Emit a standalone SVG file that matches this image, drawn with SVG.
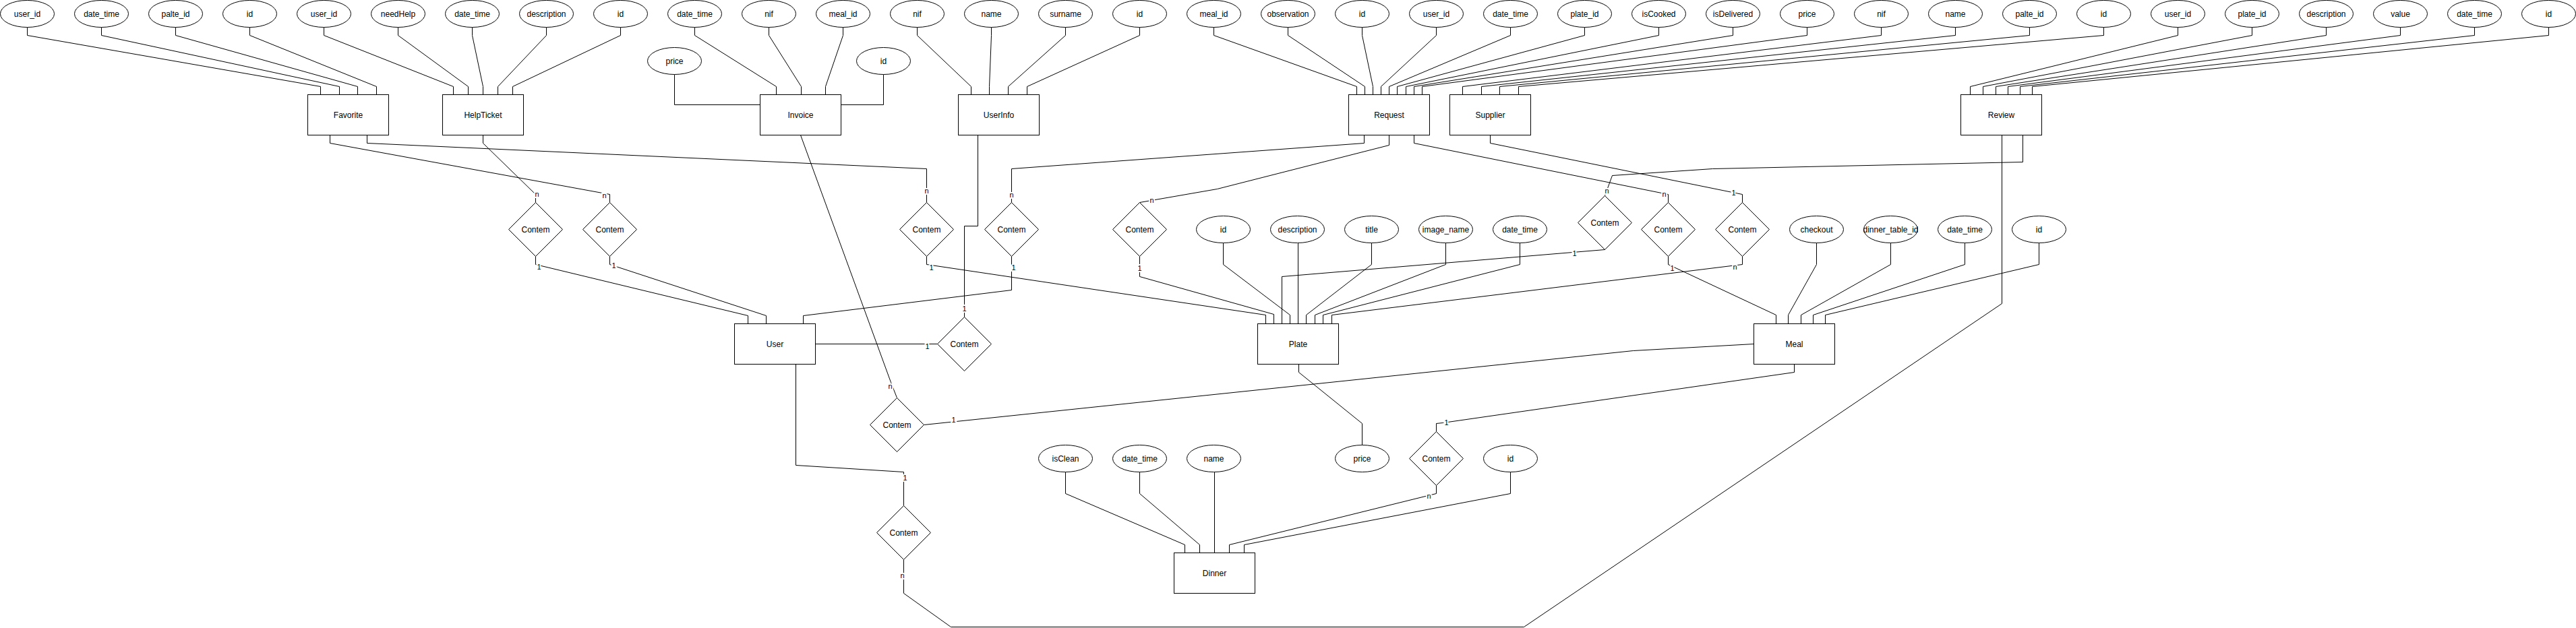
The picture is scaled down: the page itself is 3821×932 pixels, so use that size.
<svg xmlns="http://www.w3.org/2000/svg" width="3821" height="932" viewBox="0 0 3821 932">
<style>
.e,.b,.d{fill:#fff;stroke:#000;stroke-width:1}
.c polyline{fill:none;stroke:#000;stroke-width:1}
text{font-family:"Liberation Sans",Arial,sans-serif;font-size:12px;text-anchor:middle;fill:#000}
.l{paint-order:stroke;stroke:#fff;stroke-width:4px;font-size:11px}
</style>
<rect width="3821" height="932" fill="#fff"/>
<g transform="translate(0.5,0.5)">
<g id="connectors" class="c">
<!-- Favorite attributes -->
<polyline points="40,40 40,52 475,128 475,140"/>
<polyline points="150,40 150,52 503,128 503,140"/>
<polyline points="260,40 260,52 530,128 530,140"/>
<polyline points="370,40 370,52 558,128 558,140"/>
<!-- HelpTicket attributes -->
<polyline points="480,40 480,52 672,128 672,140"/>
<polyline points="590,40 590,52 694,128 694,140"/>
<polyline points="700,40 700,52 716,128 716,140"/>
<polyline points="810,40 810,52 738,128 738,140"/>
<polyline points="920,40 920,52 760,128 760,140"/>
<!-- Invoice attributes -->
<polyline points="1030,40 1030,52 1151,128 1151,140"/>
<polyline points="1140,40 1140,52 1188,128 1188,140"/>
<polyline points="1250,40 1250,52 1224,128 1224,140"/>
<polyline points="1000,110 1000,155 1127,155"/>
<polyline points="1310,110 1310,155 1247,155"/>
<!-- UserInfo attributes -->
<polyline points="1360,40 1360,52 1440,128 1440,140"/>
<polyline points="1470,40 1470,52 1467,128 1467,140"/>
<polyline points="1580,40 1580,52 1495,128 1495,140"/>
<polyline points="1690,40 1690,52 1523,128 1523,140"/>
<!-- Request attributes -->
<polyline points="1800,40 1800,52 2012,128 2012,140"/>
<polyline points="1910,40 1910,52 2024,128 2024,140"/>
<polyline points="2020,40 2020,52 2036,128 2036,140"/>
<polyline points="2130,40 2130,52 2048,128 2048,140"/>
<polyline points="2240,40 2240,52 2060,128 2060,140"/>
<polyline points="2350,40 2350,52 2072,128 2072,140"/>
<polyline points="2460,40 2460,52 2085,128 2085,140"/>
<polyline points="2570,40 2570,52 2097,128 2097,140"/>
<polyline points="2680,40 2680,52 2109,128 2109,140"/>
<!-- Supplier attributes -->
<polyline points="2790,40 2790,52 2169,128 2169,140"/>
<polyline points="2900,40 2900,52 2197,128 2197,140"/>
<polyline points="3010,40 3010,52 2224,128 2224,140"/>
<polyline points="3120,40 3120,52 2252,128 2252,140"/>
<!-- Review attributes -->
<polyline points="3230,40 3230,52 2922,128 2922,140"/>
<polyline points="3340,40 3340,52 2941,128 2941,140"/>
<polyline points="3450,40 3450,52 2960,128 2960,140"/>
<polyline points="3560,40 3560,52 2978,128 2978,140"/>
<polyline points="3670,40 3670,52 2996,128 2996,140"/>
<polyline points="3780,40 3780,52 3014,128 3014,140"/>
<!-- Plate attributes -->
<polyline points="1814,360 1814,392 1913,467 1913,480"/>
<polyline points="1925,360 1925,480"/>
<polyline points="2034,360 2034,392 1937,467 1937,480"/>
<polyline points="2144,360 2144,392 1950,467 1950,480"/>
<polyline points="2254,360 2254,392 1962,467 1962,480"/>
<polyline points="1926,540 1926,552 2020,628 2020,660"/>
<!-- Meal attributes -->
<polyline points="2694,360 2694,392 2652,467 2652,480"/>
<polyline points="2804,360 2804,392 2671,467 2671,480"/>
<polyline points="2914,360 2914,392 2689,467 2689,480"/>
<polyline points="3024,360 3024,392 2707,467 2707,480"/>
<!-- Dinner attributes -->
<polyline points="1580,700 1580,732 1757,808 1757,820"/>
<polyline points="1690,700 1690,732 1779,808 1779,820"/>
<polyline points="1801,700 1801,820"/>
<polyline points="2240,700 2240,732 1845,808 1845,820"/>
<!-- relationships -->
<polyline points="716,200 716,212 794,288 794,300"/>
<polyline points="489,200 489,212 904,288 904,300"/>
<polyline points="794,380 794,392 1109,468 1109,480"/>
<polyline points="904,380 904,392 1136,468 1136,480"/>
<polyline points="544,200 544,212 1374,250 1374,300"/>
<polyline points="1374,380 1374,392 1877,467 1877,480"/>
<polyline points="2023,200 2023,212 1500,250 1500,300"/>
<polyline points="1500,380 1500,430 1191,468 1191,480"/>
<polyline points="2060,200 2060,215 1805,280 1690,300"/>
<polyline points="1690,380 1690,410 1889,466 1889,480"/>
<polyline points="3000,200 3000,240 2540,250 2391,260 2380,290"/>
<polyline points="2380,370 1901,410 1901,480"/>
<polyline points="2097,200 2097,212 2474,288 2474,300"/>
<polyline points="2474,380 2474,392 2634,467 2634,480"/>
<polyline points="2210,200 2210,212 2584,288 2584,300"/>
<polyline points="2584,380 2584,392 1975,467 1975,480"/>
<polyline points="1450,200 1450,335 1430,335 1430,470"/>
<polyline points="1209,510 1390,510"/>
<polyline points="1187,200 1321,567 1330,590"/>
<polyline points="2601,510 2422,520 1370,630"/>
<polyline points="1180,540 1180,690 1340,700 1340,750"/>
<polyline points="2969,200 2969,450 2260,930 1410,930 1340,880 1340,830"/>
<polyline points="2661,540 2661,552 2140,627 2130,628 2130,640"/>
<polyline points="2130,720 2130,732 1823,808 1823,820"/>
<!-- cardinality labels -->
<text class="l" x="796" y="291">n</text>
<text class="l" x="896" y="293">n</text>
<text class="l" x="799" y="399">1</text>
<text class="l" x="910" y="397">1</text>
<text class="l" x="1374" y="286">n</text>
<text class="l" x="1381" y="400">1</text>
<text class="l" x="1500" y="292">n</text>
<text class="l" x="1503" y="400">1</text>
<text class="l" x="1708" y="300">n</text>
<text class="l" x="1690" y="401">1</text>
<text class="l" x="2383" y="286">n</text>
<text class="l" x="2335" y="379">1</text>
<text class="l" x="2468" y="291">n</text>
<text class="l" x="2480" y="401">1</text>
<text class="l" x="2571" y="289">1</text>
<text class="l" x="2573" y="399">n</text>
<text class="l" x="1430" y="461">1</text>
<text class="l" x="1375" y="517">1</text>
<text class="l" x="1320" y="576">n</text>
<text class="l" x="1414" y="626">1</text>
<text class="l" x="1342" y="712">1</text>
<text class="l" x="1338" y="857">n</text>
<text class="l" x="2145" y="630">1</text>
<text class="l" x="2119" y="739">n</text>
</g>
<!-- top attributes -->
<g id="att-fav-user_id"><ellipse class="e" cx="40" cy="20" rx="40" ry="20"/><text x="40" y="24">user_id</text></g>
<g id="att-fav-date_time"><ellipse class="e" cx="150" cy="20" rx="40" ry="20"/><text x="150" y="24">date_time</text></g>
<g id="att-fav-palte_id"><ellipse class="e" cx="260" cy="20" rx="40" ry="20"/><text x="260" y="24">palte_id</text></g>
<g id="att-fav-id"><ellipse class="e" cx="370" cy="20" rx="40" ry="20"/><text x="370" y="24">id</text></g>
<g id="att-help-user_id"><ellipse class="e" cx="480" cy="20" rx="40" ry="20"/><text x="480" y="24">user_id</text></g>
<g id="att-help-needHelp"><ellipse class="e" cx="590" cy="20" rx="40" ry="20"/><text x="590" y="24">needHelp</text></g>
<g id="att-help-date_time"><ellipse class="e" cx="700" cy="20" rx="40" ry="20"/><text x="700" y="24">date_time</text></g>
<g id="att-help-description"><ellipse class="e" cx="810" cy="20" rx="40" ry="20"/><text x="810" y="24">description</text></g>
<g id="att-help-id"><ellipse class="e" cx="920" cy="20" rx="40" ry="20"/><text x="920" y="24">id</text></g>
<g id="att-inv-date_time"><ellipse class="e" cx="1030" cy="20" rx="40" ry="20"/><text x="1030" y="24">date_time</text></g>
<g id="att-inv-nif"><ellipse class="e" cx="1140" cy="20" rx="40" ry="20"/><text x="1140" y="24">nif</text></g>
<g id="att-inv-meal_id"><ellipse class="e" cx="1250" cy="20" rx="40" ry="20"/><text x="1250" y="24">meal_id</text></g>
<g id="att-inv-price"><ellipse class="e" cx="1000" cy="90" rx="40" ry="20"/><text x="1000" y="94">price</text></g>
<g id="att-inv-id"><ellipse class="e" cx="1310" cy="90" rx="40" ry="20"/><text x="1310" y="94">id</text></g>
<g id="att-ui-nif"><ellipse class="e" cx="1360" cy="20" rx="40" ry="20"/><text x="1360" y="24">nif</text></g>
<g id="att-ui-name"><ellipse class="e" cx="1470" cy="20" rx="40" ry="20"/><text x="1470" y="24">name</text></g>
<g id="att-ui-surname"><ellipse class="e" cx="1580" cy="20" rx="40" ry="20"/><text x="1580" y="24">surname</text></g>
<g id="att-ui-id"><ellipse class="e" cx="1690" cy="20" rx="40" ry="20"/><text x="1690" y="24">id</text></g>
<g id="att-req-meal_id"><ellipse class="e" cx="1800" cy="20" rx="40" ry="20"/><text x="1800" y="24">meal_id</text></g>
<g id="att-req-observation"><ellipse class="e" cx="1910" cy="20" rx="40" ry="20"/><text x="1910" y="24">observation</text></g>
<g id="att-req-id"><ellipse class="e" cx="2020" cy="20" rx="40" ry="20"/><text x="2020" y="24">id</text></g>
<g id="att-req-user_id"><ellipse class="e" cx="2130" cy="20" rx="40" ry="20"/><text x="2130" y="24">user_id</text></g>
<g id="att-req-date_time"><ellipse class="e" cx="2240" cy="20" rx="40" ry="20"/><text x="2240" y="24">date_time</text></g>
<g id="att-req-plate_id"><ellipse class="e" cx="2350" cy="20" rx="40" ry="20"/><text x="2350" y="24">plate_id</text></g>
<g id="att-req-isCooked"><ellipse class="e" cx="2460" cy="20" rx="40" ry="20"/><text x="2460" y="24">isCooked</text></g>
<g id="att-req-isDelivered"><ellipse class="e" cx="2570" cy="20" rx="40" ry="20"/><text x="2570" y="24">isDelivered</text></g>
<g id="att-req-price"><ellipse class="e" cx="2680" cy="20" rx="40" ry="20"/><text x="2680" y="24">price</text></g>
<g id="att-sup-nif"><ellipse class="e" cx="2790" cy="20" rx="40" ry="20"/><text x="2790" y="24">nif</text></g>
<g id="att-sup-name"><ellipse class="e" cx="2900" cy="20" rx="40" ry="20"/><text x="2900" y="24">name</text></g>
<g id="att-sup-palte_id"><ellipse class="e" cx="3010" cy="20" rx="40" ry="20"/><text x="3010" y="24">palte_id</text></g>
<g id="att-sup-id"><ellipse class="e" cx="3120" cy="20" rx="40" ry="20"/><text x="3120" y="24">id</text></g>
<g id="att-rev-user_id"><ellipse class="e" cx="3230" cy="20" rx="40" ry="20"/><text x="3230" y="24">user_id</text></g>
<g id="att-rev-plate_id"><ellipse class="e" cx="3340" cy="20" rx="40" ry="20"/><text x="3340" y="24">plate_id</text></g>
<g id="att-rev-description"><ellipse class="e" cx="3450" cy="20" rx="40" ry="20"/><text x="3450" y="24">description</text></g>
<g id="att-rev-value"><ellipse class="e" cx="3560" cy="20" rx="40" ry="20"/><text x="3560" y="24">value</text></g>
<g id="att-rev-date_time"><ellipse class="e" cx="3670" cy="20" rx="40" ry="20"/><text x="3670" y="24">date_time</text></g>
<g id="att-rev-id"><ellipse class="e" cx="3780" cy="20" rx="40" ry="20"/><text x="3780" y="24">id</text></g>
<!-- middle attributes -->
<g id="att-plate-id"><ellipse class="e" cx="1814" cy="340" rx="40" ry="20"/><text x="1814" y="344">id</text></g>
<g id="att-plate-description"><ellipse class="e" cx="1924" cy="340" rx="40" ry="20"/><text x="1924" y="344">description</text></g>
<g id="att-plate-title"><ellipse class="e" cx="2034" cy="340" rx="40" ry="20"/><text x="2034" y="344">title</text></g>
<g id="att-plate-image_name"><ellipse class="e" cx="2144" cy="340" rx="40" ry="20"/><text x="2144" y="344">image_name</text></g>
<g id="att-plate-date_time"><ellipse class="e" cx="2254" cy="340" rx="40" ry="20"/><text x="2254" y="344">date_time</text></g>
<g id="att-meal-checkout"><ellipse class="e" cx="2694" cy="340" rx="40" ry="20"/><text x="2694" y="344">checkout</text></g>
<g id="att-meal-dinner_table_id"><ellipse class="e" cx="2804" cy="340" rx="40" ry="20"/><text x="2804" y="344">dinner_table_id</text></g>
<g id="att-meal-date_time"><ellipse class="e" cx="2914" cy="340" rx="40" ry="20"/><text x="2914" y="344">date_time</text></g>
<g id="att-meal-id"><ellipse class="e" cx="3024" cy="340" rx="40" ry="20"/><text x="3024" y="344">id</text></g>
<!-- bottom attributes -->
<g id="att-plate-price"><ellipse class="e" cx="2020" cy="680" rx="40" ry="20"/><text x="2020" y="684">price</text></g>
<g id="att-din-id"><ellipse class="e" cx="2240" cy="680" rx="40" ry="20"/><text x="2240" y="684">id</text></g>
<g id="att-din-isClean"><ellipse class="e" cx="1580" cy="680" rx="40" ry="20"/><text x="1580" y="684">isClean</text></g>
<g id="att-din-date_time"><ellipse class="e" cx="1690" cy="680" rx="40" ry="20"/><text x="1690" y="684">date_time</text></g>
<g id="att-din-name"><ellipse class="e" cx="1800" cy="680" rx="40" ry="20"/><text x="1800" y="684">name</text></g>
<!-- entities -->
<g id="Favorite"><rect class="b" x="456" y="140" width="120" height="60"/><text x="516" y="174">Favorite</text></g>
<g id="HelpTicket"><rect class="b" x="656" y="140" width="120" height="60"/><text x="716" y="174">HelpTicket</text></g>
<g id="Invoice"><rect class="b" x="1127" y="140" width="120" height="60"/><text x="1187" y="174">Invoice</text></g>
<g id="UserInfo"><rect class="b" x="1421" y="140" width="120" height="60"/><text x="1481" y="174">UserInfo</text></g>
<g id="Request"><rect class="b" x="2000" y="140" width="120" height="60"/><text x="2060" y="174">Request</text></g>
<g id="Supplier"><rect class="b" x="2150" y="140" width="120" height="60"/><text x="2210" y="174">Supplier</text></g>
<g id="Review"><rect class="b" x="2908" y="140" width="120" height="60"/><text x="2968" y="174">Review</text></g>
<g id="User"><rect class="b" x="1089" y="480" width="120" height="60"/><text x="1149" y="514">User</text></g>
<g id="Plate"><rect class="b" x="1865" y="480" width="120" height="60"/><text x="1925" y="514">Plate</text></g>
<g id="Meal"><rect class="b" x="2601" y="480" width="120" height="60"/><text x="2661" y="514">Meal</text></g>
<g id="Dinner"><rect class="b" x="1741" y="820" width="120" height="60"/><text x="1801" y="854">Dinner</text></g>
<!-- relationships -->
<g id="rel-help-user"><polygon class="d" points="794,300 834,340 794,380 754,340"/><text x="794" y="344">Contem</text></g>
<g id="rel-fav-user"><polygon class="d" points="904,300 944,340 904,380 864,340"/><text x="904" y="344">Contem</text></g>
<g id="rel-fav-plate"><polygon class="d" points="1374,300 1414,340 1374,380 1334,340"/><text x="1374" y="344">Contem</text></g>
<g id="rel-req-user"><polygon class="d" points="1500,300 1540,340 1500,380 1460,340"/><text x="1500" y="344">Contem</text></g>
<g id="rel-req-plate"><polygon class="d" points="1690,300 1730,340 1690,380 1650,340"/><text x="1690" y="344">Contem</text></g>
<g id="rel-rev-plate"><polygon class="d" points="2380,290 2420,330 2380,370 2340,330"/><text x="2380" y="334">Contem</text></g>
<g id="rel-req-meal"><polygon class="d" points="2474,300 2514,340 2474,380 2434,340"/><text x="2474" y="344">Contem</text></g>
<g id="rel-sup-plate"><polygon class="d" points="2584,300 2624,340 2584,380 2544,340"/><text x="2584" y="344">Contem</text></g>
<g id="rel-user-userinfo"><polygon class="d" points="1430,470 1470,510 1430,550 1390,510"/><text x="1430" y="514">Contem</text></g>
<g id="rel-invoice-meal"><polygon class="d" points="1330,590 1370,630 1330,670 1290,630"/><text x="1330" y="634">Contem</text></g>
<g id="rel-user-review"><polygon class="d" points="1340,750 1380,790 1340,830 1300,790"/><text x="1340" y="794">Contem</text></g>
<g id="rel-meal-dinner"><polygon class="d" points="2130,640 2170,680 2130,720 2090,680"/><text x="2130" y="684">Contem</text></g>
</g>
</svg>
